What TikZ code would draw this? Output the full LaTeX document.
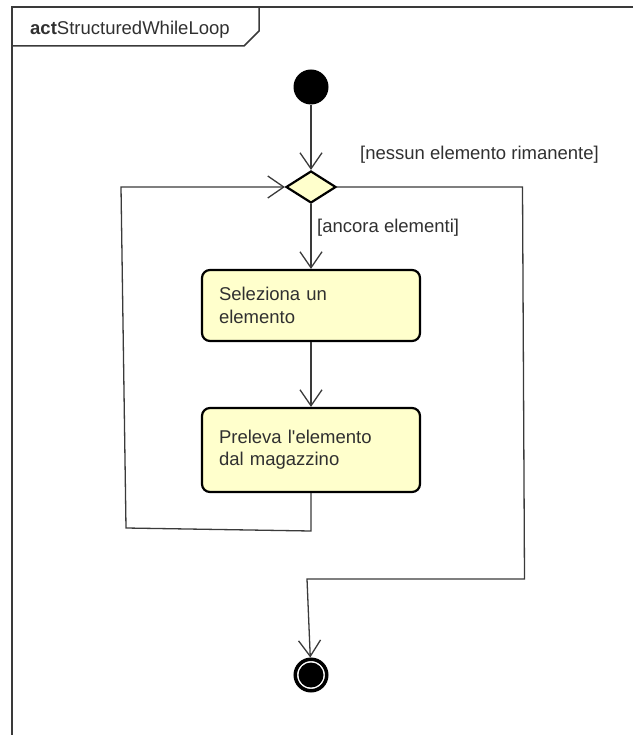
\documentclass[tikz,border=0pt]{standalone}
\usepackage{fontspec}
\setmainfont{Liberation Sans}
\usetikzlibrary{shapes.geometric,arrows.meta}
\definecolor{actfill}{HTML}{FFFFCC}
\definecolor{ink}{HTML}{303030}
\definecolor{wire}{HTML}{3A3A3A}
\begin{document}
\begin{tikzpicture}[x=1pt,y=-1pt,
  txt/.style={font=\fontsize{18.5}{22.3}\selectfont, text=ink, inner sep=0pt},
  frameline/.style={draw=wire, line width=1.5pt},
  action/.style={txt, draw=black, line width=2.2pt, fill=actfill,
    rounded corners=8pt, align=left, text width=184pt,
    inner xsep=17pt, inner ysep=0pt, minimum width=218pt},
  decision/.style={diamond, draw=black, line width=2.2pt, fill=actfill,
    minimum width=50pt, minimum height=32pt, inner sep=0pt},
  initial/.style={circle, fill=black, minimum size=35pt, inner sep=0pt},
  final/.style={circle, draw=black, line width=3.5pt, fill=white,
    minimum size=31.5pt, inner sep=0pt,
    path picture={\fill[black] (path picture bounding box.center) circle (12.5pt);}},
  flow/.style={draw=wire, line width=1.3pt,
    -{Straight Barb[length=16pt,width=22pt,line width=1.3pt]}}
]
\useasboundingbox (0,0) rectangle (633,735);

% diagram frame with its name tab
\draw[frameline] (633,7) -- (12,7) -- (12,735);
\draw[frameline] (12,46) -- (244,46) -- (259,31) -- (259,7);
\node[txt, anchor=base west] (title) at (30,35) {\textbf{act}StructuredWhileLoop};

% nodes
\node[initial] (start) at (311,87) {};
\node[decision] (dec) at (311,187) {};
\node[action, minimum height=71pt] (sel) at (311,305.5) {Seleziona un\\elemento};
\node[action, minimum height=84pt] (take) at (311,450) {Preleva l\textquotesingle elemento\\dal magazzino};
\node[final] (stop) at (311,675) {};

% guards
\node[txt, anchor=base west] (gyes) at (317,233) {[ancora elementi]};
\node[txt, anchor=base west] (gno) at (360,160) {[nessun elemento rimanente]};

% route points
\coordinate (lb) at (311,531);
\coordinate (lc) at (126,528);
\coordinate (lt) at (121,187);
\coordinate (rt) at (522.5,187);
\coordinate (rb) at (524.5,579);
\coordinate (rl) at (307,579);

% connectors
\draw[flow] (start) -- (dec);
\draw[flow] (dec) -- (sel);
\draw[flow] (sel) -- (take);
\draw[flow] (take.south) -- (lb) -- (lc) -- (lt) -- (dec.west);
\draw[flow] (dec.east) -- (rt) -- (rb) -- (rl) -- (stop);
\end{tikzpicture}
\end{document}
